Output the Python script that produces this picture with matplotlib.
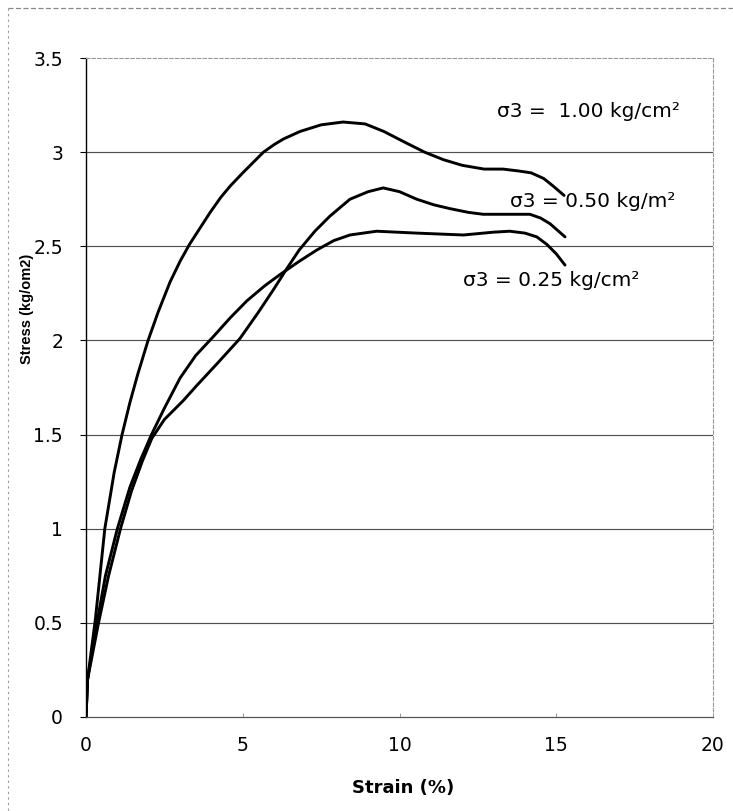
import matplotlib
matplotlib.use("Agg")
import matplotlib.pyplot as plt
from matplotlib.lines import Line2D

plt.rcParams['font.family'] = ['DejaVu Sans']

# Stress-strain curves for three confining pressures
strain_100 = [0, 0.05, 0.3, 0.6, 0.9, 1.15, 1.4, 1.65, 1.98, 2.3, 2.68, 3.0, 3.3,
              3.65, 3.96, 4.3, 4.6, 5.0, 5.3, 5.66, 6.0, 6.3, 6.83, 7.5, 8.2, 8.9,
              9.5, 10.2, 10.8, 11.4, 12.0, 12.7, 13.3, 13.8, 14.2, 14.6, 14.9, 15.25]
stress_100 = [0, 0.2, 0.52, 1.0, 1.3, 1.5, 1.67, 1.82, 2.0, 2.15, 2.31, 2.42, 2.51,
              2.60, 2.68, 2.76, 2.82, 2.89, 2.94, 3.0, 3.04, 3.07, 3.11, 3.145, 3.16, 3.15,
              3.11, 3.05, 3.0, 2.96, 2.93, 2.91, 2.91, 2.90, 2.89, 2.86, 2.82, 2.77]

strain_050 = [0, 0.05, 0.4, 0.72, 1.1, 1.45, 1.8, 2.1, 2.5, 3.1, 3.53, 4.2, 4.91,
              5.5, 5.98, 6.4, 6.8, 7.3, 7.78, 8.42, 9.0, 9.48, 10.0, 10.55, 11.1,
              11.61, 12.2, 12.67, 13.4, 14.16, 14.5, 14.8, 15.28]
stress_050 = [0, 0.2, 0.5, 0.75, 1.0, 1.2, 1.36, 1.48, 1.58, 1.68, 1.76, 1.88, 2.01,
              2.15, 2.27, 2.38, 2.48, 2.58, 2.66, 2.75, 2.79, 2.81, 2.79, 2.75, 2.72,
              2.70, 2.68, 2.67, 2.67, 2.67, 2.65, 2.62, 2.55]

strain_025 = [0, 0.05, 0.35, 0.62, 1.0, 1.4, 1.75, 2.09, 2.5, 3.0, 3.5, 4.06, 4.6,
              5.13, 5.7, 6.19, 6.8, 7.36, 7.9, 8.42, 9.27, 10.55, 12.04, 13.0, 13.52,
              14.0, 14.38, 14.7, 15.0, 15.28]
stress_025 = [0, 0.2, 0.5, 0.75, 1.0, 1.22, 1.37, 1.5, 1.64, 1.8, 1.92, 2.02, 2.12,
              2.21, 2.29, 2.35, 2.42, 2.48, 2.53, 2.56, 2.58, 2.57, 2.56, 2.575, 2.58,
              2.57, 2.55, 2.51, 2.46, 2.40]

labels = ["σ3 =  1.00 kg/cm²", "σ3 = 0.50 kg/m²", "σ3 = 0.25 kg/cm²"]
label_pos = [(13.11, 3.186), (13.52, 2.708), (12.03, 2.289)]

x_ticks = [0, 5, 10, 15, 20]
y_ticks = [0, 0.5, 1, 1.5, 2, 2.5, 3, 3.5]
y_tick_labels = ["0", "0.5", "1", "1.5", "2", "2.5", "3", "3.5"]

W, H = 733, 811
fig = plt.figure(figsize=(W / 100, H / 100), dpi=100)
ax = fig.add_axes([86 / W, 1 - 717 / H, (713 - 86) / W, (717 - 58) / H])

# horizontal grid
for y in y_ticks[1:-1]:
    ax.axhline(y, color='#505050', lw=0.85, zorder=1)

for xs, ys in [(strain_100, stress_100), (strain_050, stress_050), (strain_025, stress_025)]:
    ax.plot(xs, ys, color='black', lw=2.1, solid_joinstyle='round',
            solid_capstyle='round', zorder=3)

for txt, (x, y) in zip(labels, label_pos):
    ax.text(x, y, txt, fontsize=14.5, ha='left', va='baseline', color='black', zorder=4)

ax.set_xlim(0, 20)
ax.set_ylim(0, 3.5)
ax.set_xticks(x_ticks)
ax.set_xticklabels([str(v) for v in x_ticks])
ax.set_yticks(y_ticks)
ax.set_yticklabels(y_tick_labels)
ax.tick_params(axis='y', length=4.5, width=0.8, pad=12, labelsize=13.5, direction='out')
ax.tick_params(axis='x', length=3, width=0.6, pad=14, labelsize=13.5, direction='in',
               color='#888888')

ax.spines['left'].set_color('black')
ax.spines['left'].set_linewidth(1.0)
ax.spines['bottom'].set_color('#555555')
ax.spines['bottom'].set_linewidth(0.9)
for side in ['top', 'right']:
    ax.spines[side].set_color('#999999')
    ax.spines[side].set_linewidth(0.8)
    ax.spines[side].set_linestyle((0, (3, 2)))

fig.text(403 / W, 1 - 788 / H, "Strain (%)", fontsize=13, fontweight='bold',
         ha='center', va='center')
fig.text(27 / W, 1 - 309 / H, "Stress (kg/om2)", fontsize=10.5, fontweight='bold',
         family=['Liberation Sans', 'DejaVu Sans'],
         rotation=90, ha='center', va='center')

# dotted outer frame
fig.add_artist(Line2D([8 / W, 8 / W], [1 - 8 / H, 0], transform=fig.transFigure,
                      color='#999999', lw=0.8, ls=(0, (2, 3))))
fig.add_artist(Line2D([8 / W, 1], [1 - 8 / H, 1 - 8 / H], transform=fig.transFigure,
                      color='#888888', lw=0.9, ls=(0, (4, 2))))

fig.savefig("out.png", dpi=100)
